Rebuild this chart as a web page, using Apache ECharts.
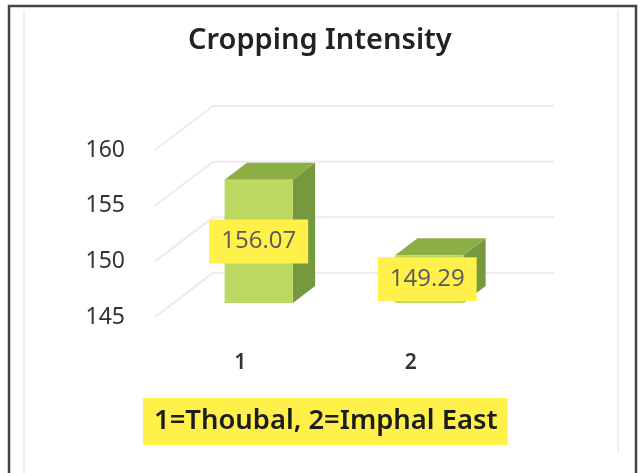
<!DOCTYPE html>
<html>
<head>
<meta charset="utf-8">
<style>
  html, body { margin: 0; padding: 0; background: #fff; }
  #chart { width: 642px; height: 473px; }
</style>
<script src="https://cdn.jsdelivr.net/npm/echarts@6/dist/echarts.min.js"></script>
</head>
<body>
<div id="chart"></div>
<script>
const chartTitle = 'Cropping Intensity';
const keyText = '1=Thoubal, 2=Imphal East';
const categories = ['1', '2'];
const intensity = [156.07, 149.29];
const yTicks = [145, 150, 155, 160];

// Fake 3D: how far the back wall sits from the axis plane, in pixels
const FLOOR_DX = 58;
const FLOOR_DY = -44;
// Where a bar starts and ends along the floor (0 = axis plane, 1 = back wall)
const BAR_NEAR = 0.318;
const BAR_FAR = 0.703;
const BAR_SHARE = 0.4;

const chart = echarts.init(document.getElementById('chart'), null, { renderer: 'canvas' });

const renderGridLine = (params, api) => {
  const band = api.size([1, 0])[0];
  const front = api.coord([0, api.value(1)]);
  const x0 = front[0] - band / 2;
  const y0 = front[1];
  return {
    type: 'polyline',
    shape: {
      points: [
        [x0, y0],
        [x0 + FLOOR_DX, y0 + FLOOR_DY],
        [x0 + FLOOR_DX + band * categories.length, y0 + FLOOR_DY],
      ],
    },
    style: { stroke: '#ececec', lineWidth: 2, fill: null },
    silent: true,
  };
};

const renderBar = (params, api) => {
  const idx = api.value(0);
  const value = api.value(1);
  const base = api.coord([idx, yTicks[0]]);
  const top = api.coord([idx, value]);
  const width = api.size([1, 0])[0] * BAR_SHARE;
  // Front face, pushed back a bit from the axis plane
  const left = base[0] + FLOOR_DX * BAR_NEAR - width / 2;
  const right = left + width;
  const bottom = base[1] + FLOOR_DY * BAR_NEAR;
  const upper = top[1] + FLOOR_DY * BAR_NEAR;
  const dx = FLOOR_DX * (BAR_FAR - BAR_NEAR);
  const dy = FLOOR_DY * (BAR_FAR - BAR_NEAR);
  return {
    type: 'group',
    children: [
      {
        type: 'polygon',
        shape: { points: [[right, upper], [right + dx, upper + dy], [right + dx, bottom + dy], [right, bottom]] },
        style: { fill: '#76993f' },
      },
      {
        type: 'polygon',
        shape: { points: [[left, upper], [left + dx, upper + dy], [right + dx, upper + dy], [right, upper]] },
        style: { fill: '#8bae45' },
      },
      {
        type: 'rect',
        shape: { x: left, y: upper, width, height: bottom - upper },
        style: { fill: '#bbd860' },
      },
      {
        type: 'text',
        style: {
          text: value.toFixed(2),
          x: (left + right) / 2 - (idx === 0 ? 0 : 2),
          y: (upper + bottom) / 2,
          align: 'center',
          verticalAlign: 'middle',
          fontFamily: 'Open Sans',
          fontSize: 24,
          fill: '#595959',
          backgroundColor: '#fff04a',
          padding: [15, 12, 5, 12],
        },
      },
    ],
  };
};

chart.setOption({
  animation: false,
  backgroundColor: '#fff',
  title: [
    {
      text: chartTitle,
      left: 183,
      top: 21,
      textStyle: { fontFamily: 'Noto Sans', fontSize: 29, fontWeight: 600, color: '#222' },
    },
    {
      text: keyText,
      left: 143,
      top: 398,
      backgroundColor: '#fff04a',
      padding: [10, 10, 10, 11],
      textStyle: { fontFamily: 'Noto Sans', fontSize: 27.4, fontWeight: 600, color: '#1c1c1c' },
    },
  ],
  grid: { left: 155, top: 150, width: 341, height: 167 },
  xAxis: {
    type: 'category',
    data: categories,
    axisLine: { show: false },
    axisTick: { show: false },
    axisLabel: { margin: 36, fontFamily: 'Noto Sans', fontSize: 21, fontWeight: 600, color: '#333' },
  },
  yAxis: {
    type: 'value',
    min: 145,
    max: 160,
    interval: 5,
    axisLine: { show: false },
    axisTick: { show: false },
    splitLine: { show: false },
    axisLabel: { margin: 30, padding: [2, 0, 0, 0], fontFamily: 'Noto Sans', fontSize: 23, color: '#333' },
  },
  series: [
    {
      type: 'custom',
      renderItem: renderGridLine,
      data: yTicks.map((v) => [0, v]),
      encode: { x: 0, y: 1 },
      clip: false,
      silent: true,
      z: 1,
    },
    {
      type: 'custom',
      renderItem: renderBar,
      data: intensity.map((v, i) => [i, v]),
      encode: { x: 0, y: 1 },
      clip: false,
      z: 2,
    },
  ],
  graphic: [
    // Outer dark frame of the scanned figure, open at the bottom
    { type: 'polyline', shape: { points: [[9, 473], [9, 6], [636, 6], [636, 473]] }, style: { stroke: '#444', lineWidth: 2.5, fill: null }, silent: true },
    // Inner light frame
    { type: 'polyline', shape: { points: [[24, 473], [24, 10]] }, style: { stroke: '#eeeeee', lineWidth: 2, fill: null }, silent: true },
    { type: 'polyline', shape: { points: [[618, 10], [618, 452]] }, style: { stroke: '#eeeeee', lineWidth: 2, fill: null }, silent: true },
  ],
});

window.addEventListener('resize', () => chart.resize());
</script>
</body>
</html>
